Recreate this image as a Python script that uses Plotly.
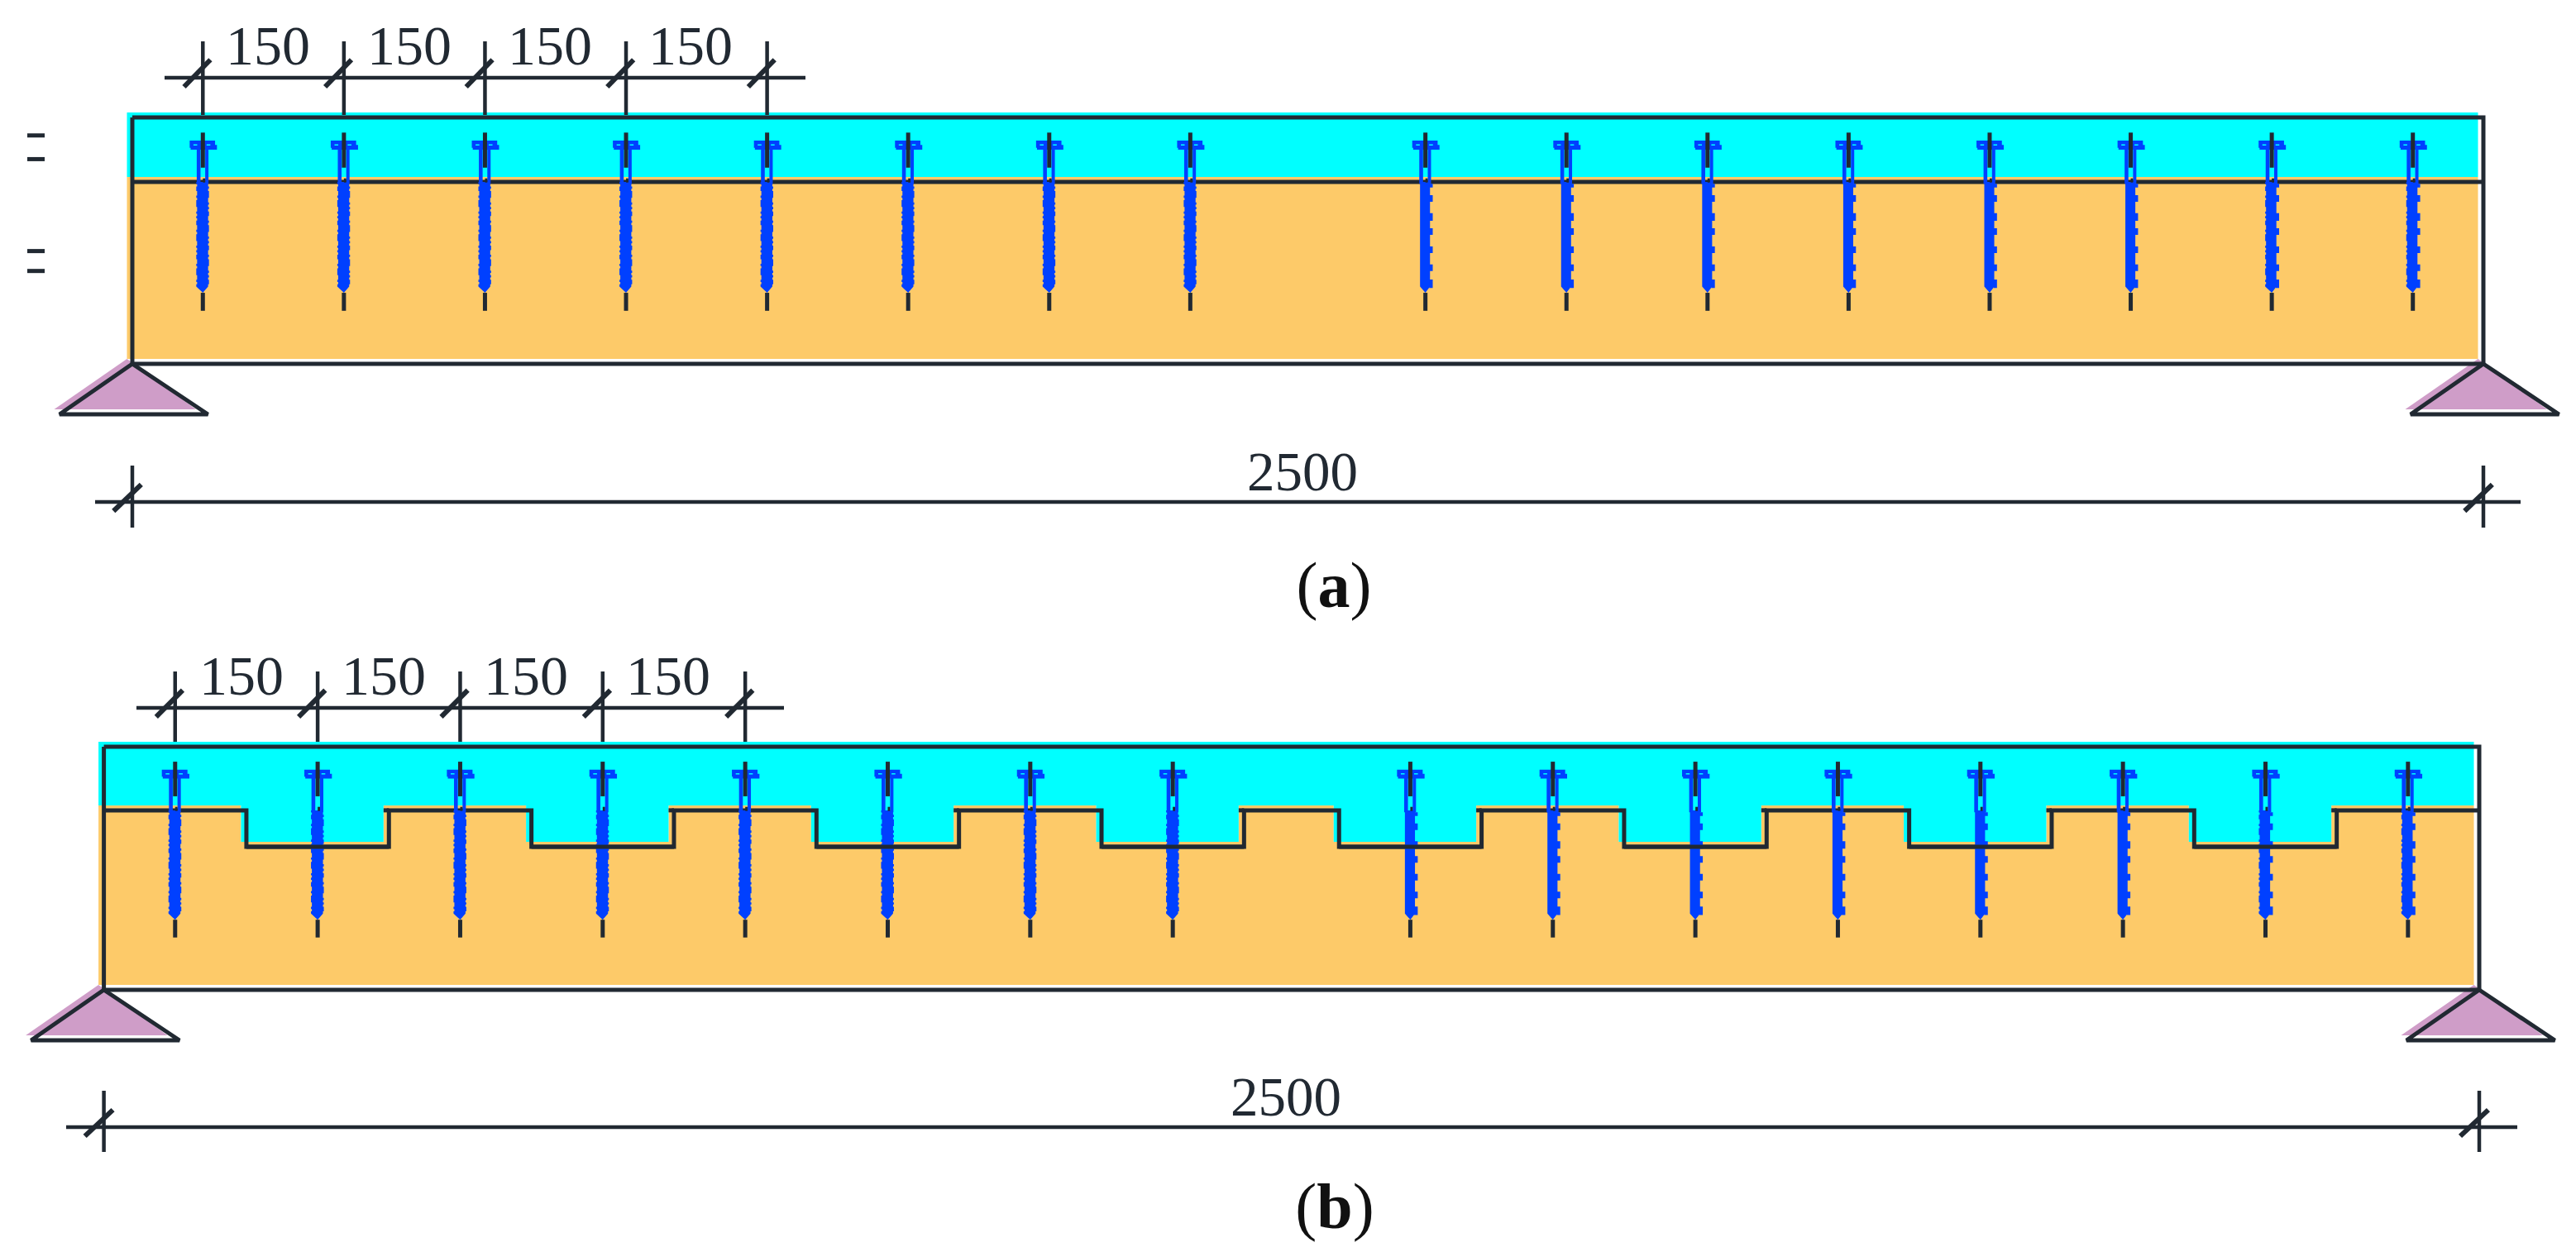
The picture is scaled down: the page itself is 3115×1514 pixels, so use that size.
import plotly.graph_objects as go

W, H = 3115, 1514
PAGE_MARGIN = 8  # browser's default body margin around the plot div
INK = "#212932"
BLUE = "#0040ff"
CYAN = "#00ffff"
ORANGE = "#fdca69"
PINK = "#cf9dc8"

# beam data, mm
BEAM_LENGTH = 2500
BEAM_DEPTH = 260
INTERFACE = 68
NOTCH_FLOOR = 107
SCREW_X = [75, 225, 375, 525, 675, 825, 975, 1125, 1375, 1525, 1675, 1825, 1975, 2125, 2275, 2425]
SCREW_STYLE = ["jag"] * 8 + ["teeth"] * 6 + ["both"] * 2
NOTCHES = [(150, 300), (450, 600), (750, 900), (1050, 1200), (1300, 1450), (1600, 1750), (1900, 2050), (2200, 2350)]
SPACING_LABELS = ["150", "150", "150", "150"]
LENGTH_LABEL = "2500"
TEETH = [(70, 74), (82, 89), (101, 109), (117, 124), (136, 143), (155, 162), (171, 180)]
JAG = [0, 1, 0, 0, 1, 1, 0, 1, 0, 0, 0, 1, 1, 0, 1]
EQUAL_MARKS = [19, 44, 141, 162]

# page position of each panel, px
PANEL_A = dict(
    xa="x", ya="y", left=160, right=3003, top=142, bottom=440, notches=[],
    dim_y=94, dim_x=(199, 974), tick_y=(50, 139), label_x=(324, 495, 665, 835), label_y=61,
    low_y=607, low_x=(115, 3048), low_tick=(563, 638), low_label=(1575, 576),
    tag="(<b>a</b>)", tag_pos=(1613, 714), marks_x=(33, 54),
)
PANEL_B = dict(
    xa="x2", ya="y2", left=125.6, right=2998, top=903, bottom=1197, notches=NOTCHES,
    dim_y=856, dim_x=(165, 948), tick_y=(812, 897), label_x=(292, 464, 636, 808), label_y=823,
    low_y=1363, low_x=(80, 3044), low_tick=(1319, 1393), low_label=(1555, 1332),
    tag="(<b>b</b>)", tag_pos=(1614, 1465), marks_x=None,
)


def add_lines(fig, p, xs, ys, color=INK, width=4):
    fig.add_trace(go.Scatter(x=xs, y=ys, mode="lines", line=dict(color=color, width=width),
                             hoverinfo="skip", showlegend=False, xaxis=p["xa"], yaxis=p["ya"]))


def add_fill(fig, p, xs, ys, color):
    fig.add_trace(go.Scatter(x=xs, y=ys, mode="lines", fill="toself", fillcolor=color, line=dict(width=0),
                             hoverinfo="skip", showlegend=False, xaxis=p["xa"], yaxis=p["ya"]))


def add_text(fig, p, xs, ys, text, size, color=INK):
    fig.add_trace(go.Scatter(x=xs, y=ys, mode="text", text=text, textposition="middle center",
                             textfont=dict(family="Liberation Serif", size=size, color=color),
                             hoverinfo="skip", showlegend=False, xaxis=p["xa"], yaxis=p["ya"]))


def segs(items):
    xs, ys = [], []
    for sx, sy in items:
        xs += list(sx) + [None]
        ys += list(sy) + [None]
    return xs, ys


def interface_outline(notches):
    xs, ys = [0], [INTERFACE]
    for a, b in notches:
        xs += [a, a, b, b]
        ys += [INTERFACE, NOTCH_FLOOR, NOTCH_FLOOR, INTERFACE]
    return xs + [BEAM_LENGTH], ys + [INTERFACE]


def screw_head(cx):
    return ([cx - 14, cx + 13, cx + 13, cx + 15, cx + 15, cx - 13, cx - 13, cx - 14, cx - 14],
            [24.5, 24.5, 29, 29, 34, 34, 32, 32, 24.5])


def screw_body(cx, style):
    left, right = [], []
    d, i = 68, 0
    while d < 178:
        lx = cx - 7 + JAG[i % len(JAG)] * 0.9 if style != "teeth" else cx - 5.7
        rx = cx + 6.5 - JAG[(i + 4) % len(JAG)] * 0.9 if style == "jag" else cx + 4.9
        left += [(lx, d), (lx, d + 2.4)]
        right += [(rx, d), (rx, d + 2.4)]
        d += 2.4
        i += 1
    pts = left + [(cx, 185)] + right[::-1]
    return [q[0] for q in pts], [q[1] for q in pts]


def draw_panel(fig, p):
    sx = (p["right"] - p["left"]) / BEAM_LENGTH
    sy = (p["bottom"] - p["top"]) / BEAM_DEPTH
    X = lambda px: (px - p["left"]) / sx
    Y = lambda px: (px - p["top"]) / sy
    dx, dy = X(p["left"] - 6.5), Y(p["top"] - 6)

    # colour fills sit slightly up and to the left of the linework
    ix, iy = interface_outline(p["notches"])
    add_fill(fig, p, [dx, BEAM_LENGTH + dx, BEAM_LENGTH + dx, dx, dx],
             [dy, dy, INTERFACE + dy, INTERFACE + dy, dy], CYAN)
    ox = [x + dx for x in ix]
    oy = [y + dy for y in iy]
    add_fill(fig, p, [dx] + ox + [BEAM_LENGTH + dx, dx], [BEAM_DEPTH + dy] + oy + [BEAM_DEPTH + dy, BEAM_DEPTH + dy], ORANGE)
    for a, b in p["notches"]:
        add_fill(fig, p, [a + dx, b + dx, b + dx, a + dx], [INTERFACE + dy - 1, INTERFACE + dy - 1, NOTCH_FLOOR + dy, NOTCH_FLOOR + dy], CYAN)

    # supports
    half, tall = X(p["left"] + 88), Y(p["top"] + 61)
    for sup in (0, BEAM_LENGTH):
        add_fill(fig, p, [sup + dx, sup + dx - half, sup + dx + half - 4, sup + dx],
                 [BEAM_DEPTH + dy, BEAM_DEPTH + dy + tall, BEAM_DEPTH + dy + tall, BEAM_DEPTH + dy], PINK)
        add_lines(fig, p, [sup, sup - half, sup + half + 3, sup], [BEAM_DEPTH, BEAM_DEPTH + tall, BEAM_DEPTH + tall, BEAM_DEPTH], width=5)

    # frame and interface
    add_lines(fig, p, [0, BEAM_LENGTH, BEAM_LENGTH, 0, 0], [0, 0, BEAM_DEPTH, BEAM_DEPTH, 0], width=5)
    add_lines(fig, p, ix, iy, width=5)
    for a, b in p["notches"]:
        add_lines(fig, p, [b + dx, b], [INTERFACE, INTERFACE], width=5)

    # screws; overlapping polygons go in separate traces so they do not punch holes
    xs, ys = segs([screw_head(cx) for cx in SCREW_X])
    add_fill(fig, p, xs, ys, BLUE)
    xs, ys = segs([([cx - 6.5, cx - 2.5, cx - 2.5, cx - 6.5, cx - 6.5], [33, 33, 70, 70, 33]) for cx in SCREW_X])
    add_fill(fig, p, xs, ys, BLUE)
    xs, ys = segs([([cx + 2.5, cx + 6, cx + 6, cx + 2.5, cx + 2.5], [33, 33, 70, 70, 33]) for cx in SCREW_X])
    add_fill(fig, p, xs, ys, BLUE)
    xs, ys = segs([screw_body(cx, st) for cx, st in zip(SCREW_X, SCREW_STYLE)])
    add_fill(fig, p, xs, ys, BLUE)
    teeth = []
    for cx, st in zip(SCREW_X, SCREW_STYLE):
        if st != "jag":
            teeth += [([cx + 4, cx + 7.8, cx + 7.8, cx + 4], [d0, d0, d1, d1]) for d0, d1 in TEETH]
    xs, ys = segs(teeth)
    add_fill(fig, p, xs, ys, BLUE)
    slits = []
    for cx in SCREW_X:
        slits += [([cx - 10, cx - 6], [29, 29]), ([cx + 4, cx + 8], [29, 29])]
    xs, ys = segs(slits)
    add_lines(fig, p, xs, ys, color=CYAN, width=1.5)
    shafts = []
    for cx in SCREW_X:
        shafts += [([cx, cx], [16, 53]), ([cx, cx], [185, 204]), ([cx, cx + 2.5], [66.5, 66.5])]
    xs, ys = segs(shafts)
    add_lines(fig, p, xs, ys, width=5)

    # notch floors run over the screws
    floors = [([a, b], [NOTCH_FLOOR, NOTCH_FLOOR]) for a, b in p["notches"]]
    if floors:
        xs, ys = segs(floors)
        add_lines(fig, p, xs, ys, width=5)

    # spacing dimension
    ticks = SCREW_X[:len(SPACING_LABELS) + 1]
    dim_y = Y(p["dim_y"])
    items = [([X(p["dim_x"][0]), X(p["dim_x"][1])], [dim_y, dim_y])]
    slashes = []
    for t in ticks:
        items.append(([t, t], [Y(p["tick_y"][0]), Y(p["tick_y"][1])]))
        slashes.append(([t - 20, t + 8], [dim_y + 9.6, dim_y - 19]))
    xs, ys = segs(items)
    add_lines(fig, p, xs, ys, width=4.5)
    xs, ys = segs(slashes)
    add_lines(fig, p, xs, ys, width=6)
    add_text(fig, p, [X(v) for v in p["label_x"]], [Y(p["label_y"])] * 4, SPACING_LABELS, 68)

    # overall length dimension
    low_y = Y(p["low_y"])
    items = [([X(p["low_x"][0]), X(p["low_x"][1])], [low_y, low_y])]
    slashes = []
    for t in (0, BEAM_LENGTH):
        items.append(([t, t], [Y(p["low_tick"][0]), Y(p["low_tick"][1])]))
        slashes.append(([t - 20, t + 9.5], [low_y + 9.6, low_y - 18.5]))
    xs, ys = segs(items)
    add_lines(fig, p, xs, ys, width=4.5)
    xs, ys = segs(slashes)
    add_lines(fig, p, xs, ys, width=6)
    add_text(fig, p, [X(p["low_label"][0])], [Y(p["low_label"][1])], [LENGTH_LABEL], 67)
    add_text(fig, p, [X(p["tag_pos"][0])], [Y(p["tag_pos"][1])], [p["tag"]], 78, color="#111111")

    if p["marks_x"]:
        marks = [([X(p["marks_x"][0]), X(p["marks_x"][1])], [m, m]) for m in EQUAL_MARKS]
        xs, ys = segs(marks)
        add_lines(fig, p, xs, ys, width=5)

    return (
        [X(PAGE_MARGIN), X(W - PAGE_MARGIN)],
        [Y(H - PAGE_MARGIN), Y(PAGE_MARGIN)],
    )


fig = go.Figure()
xr_a, yr_a = draw_panel(fig, PANEL_A)
xr_b, yr_b = draw_panel(fig, PANEL_B)

fig.update_layout(
    width=W - 2 * PAGE_MARGIN,
    height=H - 2 * PAGE_MARGIN,
    margin=dict(l=0, r=0, t=0, b=0),
    paper_bgcolor="white",
    plot_bgcolor="white",
    showlegend=False,
    xaxis=dict(range=xr_a, visible=False, domain=[0, 1], anchor="y"),
    yaxis=dict(range=yr_a, visible=False, domain=[0, 1], anchor="x"),
    xaxis2=dict(range=xr_b, visible=False, domain=[0, 1], anchor="y2", overlaying="x"),
    yaxis2=dict(range=yr_b, visible=False, domain=[0, 1], anchor="x2", overlaying="y"),
)

fig.write_html("out.html")
